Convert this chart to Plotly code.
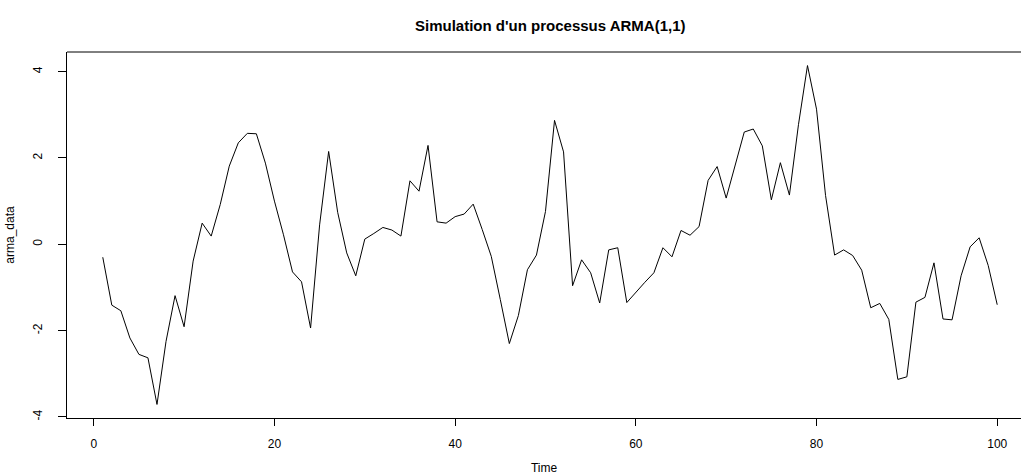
import plotly.graph_objects as go

# ARMA(1,1) simulated series, t = 1..100
time_index = list(range(1, 101))
arma_data = [
    -0.30, -1.41, -1.54, -2.17, -2.55, -2.63, -3.71, -2.25, -1.19, -1.91,
    -0.39, 0.49, 0.19, 0.92, 1.81, 2.35, 2.57, 2.56, 1.88, 1.00,
    0.22, -0.64, -0.87, -1.94, 0.45, 2.15, 0.74, -0.20, -0.73, 0.12,
    0.25, 0.39, 0.33, 0.19, 1.47, 1.23, 2.29, 0.52, 0.49, 0.64,
    0.70, 0.93, 0.34, -0.28, -1.28, -2.30, -1.65, -0.59, -0.25, 0.76,
    2.87, 2.14, -0.96, -0.36, -0.66, -1.36, -0.13, -0.08, -1.35, -1.11,
    -0.88, -0.66, -0.08, -0.29, 0.32, 0.21, 0.41, 1.48, 1.80, 1.07,
    1.82, 2.60, 2.67, 2.28, 1.03, 1.89, 1.14, 2.77, 4.14, 3.13,
    1.13, -0.25, -0.13, -0.26, -0.60, -1.47, -1.37, -1.74, -3.13, -3.07,
    -1.34, -1.23, -0.43, -1.73, -1.75, -0.73, -0.06, 0.15, -0.49, -1.40,
]

x_tick_vals = [0, 20, 40, 60, 80, 100]
x_tick_labels = ["0", "20", "40", "60", "80", "100"]
y_tick_vals = [-4, -2, 0, 2, 4]
y_tick_labels = ["-4", "-2", "0", "2", "4"]

title_text = "Simulation d'un processus ARMA(1,1)"
x_title = "Time"
y_title = "arma_data"


def padded(lo, hi):
    """Axis limits with 4% padding on each side."""
    r = hi - lo
    return lo - 0.04 * r, hi + 0.04 * r


x_lo, x_hi = padded(min(time_index), max(time_index))
y_lo, y_hi = padded(min(arma_data), max(arma_data))

W, H = 1021, 475
m_left, m_top, m_bottom = 67, 52, 57
full_plot_w = 966          # plot region continues past the right edge of the page
vis_w = W - m_left
x_vis_hi = x_lo + (x_hi - x_lo) * vis_w / full_plot_w
plot_h = H - m_top - m_bottom

FONT = "Liberation Sans, Arial, Helvetica, sans-serif"

fig = go.Figure()
fig.add_trace(go.Scatter(
    x=time_index, y=arma_data, mode="lines",
    line=dict(color="black", width=1),
    hoverinfo="x+y", showlegend=False,
))

fig.update_layout(
    width=W, height=H,
    margin=dict(l=m_left, r=0, t=m_top, b=m_bottom, pad=0),
    paper_bgcolor="white", plot_bgcolor="white",
    font=dict(family=FONT, size=12, color="black"),
    showlegend=False,
    xaxis=dict(
        range=[x_lo, x_vis_hi], showgrid=False, zeroline=False,
        showline=True, linecolor="black", linewidth=1,
        ticks="outside", ticklen=7, tickcolor="black", tickwidth=1,
        tickvals=x_tick_vals, ticktext=x_tick_labels,
        tickfont=dict(size=12), ticklabelstandoff=8,
        title=dict(text=x_title, font=dict(size=12), standoff=16),
    ),
    yaxis=dict(
        range=[y_lo, y_hi], showgrid=False, zeroline=False,
        showline=True, linecolor="black", linewidth=1,
        ticks="outside", ticklen=8, tickcolor="black", tickwidth=1,
        tickvals=y_tick_vals, ticktext=y_tick_labels, tickangle=-90,
        tickfont=dict(size=12), ticklabelstandoff=11,
        title=dict(text=y_title, font=dict(size=12), standoff=14),
    ),
)

# top edge of the frame
fig.add_shape(type="line", xref="paper", yref="paper",
              x0=0, x1=1, y0=1, y1=1,
              line=dict(color="black", width=1))

# main title, centred over the full plot region
fig.add_annotation(
    text="<b>" + title_text + "</b>",
    xref="x", yref="paper",
    x=(x_lo + x_hi) / 2, y=1 + (m_top - 25) / plot_h,
    xanchor="center", yanchor="middle", showarrow=False,
    font=dict(family=FONT, size=15, color="black"),
)

fig.write_html("out.html")
